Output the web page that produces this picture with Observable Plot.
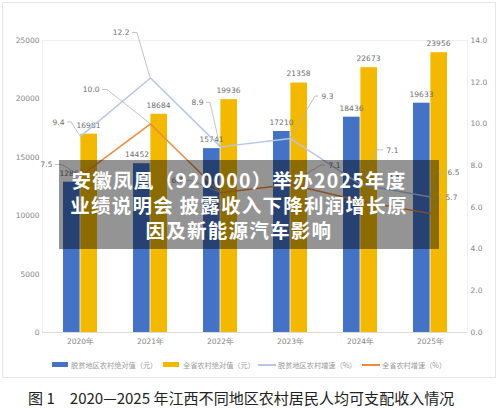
<!DOCTYPE html>
<html><head><meta charset="utf-8">
<script src="https://cdn.jsdelivr.net/npm/d3@7"></script>
<script src="https://cdn.jsdelivr.net/npm/@observablehq/plot@0.6"></script>
<style>
html,body{margin:0;padding:0;background:#fff;width:500px;height:409px;overflow:hidden}
#wrap{position:relative;width:500px;height:409px;font-family:"DejaVu Sans",sans-serif}
#wrap svg{position:absolute;left:0;top:0;background:transparent}
#frame{position:absolute;left:2px;top:2px;width:492px;height:374px;border:1.2px solid #e6e6e6}
#legend{position:absolute;left:52px;top:359px;height:12px;font:7.2px "Noto Sans CJK SC",sans-serif;color:#9a9a9a;white-space:nowrap}
#legend span{position:absolute;top:0;line-height:12px}
#legend i{position:absolute;display:block}
#banner{position:absolute;left:59px;top:160px;width:380px;height:89px;background:rgba(0,0,0,.42);color:#fff;font:bold 19.5px/25px "Noto Sans CJK SC",sans-serif;letter-spacing:1.25px;text-align:center;padding:7px 20px 0 0;box-sizing:border-box}
#caption{position:absolute;left:28px;top:388px;font:15.05px/20px "Noto Sans CJK SC",sans-serif;color:#222;white-space:nowrap}
</style></head><body>
<div id="wrap"><div id="frame"></div></div>
<script>
const years = ["2020年","2021年","2022年","2023年","2024年","2025年"];
const povertyIncome = [12868,14452,15741,17210,18436,19633];
const provinceIncome = [16981,18684,19936,21358,22673,23956];
const povertyGrowth = [9.4,12.2,8.9,9.3,7.1,6.5];
const provinceGrowth = [7.5,10.0,6.7,7.1,6.3,5.7];
const seriesNames = ["脱贫地区农村绝对值（元）","全省农村绝对值（元）","脱贫地区农村增速（%）","全省农村增速（%）"];
const colors = ["#4472c4","#f2b900","#b4c7e7","#ed8a3c"];
const leftTicks = [0,5000,10000,15000,20000,25000];
const rightTicks = [0,2,4,6,8,10,12,14];
const titleLines = ["安徽凤凰（920000）举办2025年度","业绩说明会 披露收入下降利润增长原","因及新能源汽车影响"];
const captionText = "图 1\u30002020—2025 年江西不同地区农村居民人均可支配收入情况";
// label leader offsets from each point, in px: elbow x, elbow y, leader end x
const povertyLeaders = [[-9,-14,-13],[-13,-45,-18],[-10,-44,-14],[25,-42,28],[17,-34,23],[10,-24,14]];
const provinceLeaders = [[-18,-11,-25],[-43,-34,-48],[-30,-12,-34],[31,-19,35],[20,-26,24],[8,-16,12]];
const blueLabelShift = [-9,-13.5,-9,-9,-9,-9];

const margins = {marginLeft:42,marginRight:33,marginTop:40,marginBottom:77,width:500,height:409};
const grey = "#858585", labelGrey = "#6e6e6e";
const style = {fontFamily:"DejaVu Sans, sans-serif",background:"transparent"};
const xScale = {type:"band",domain:years,padding:0,axis:null};

const barPlot = Plot.plot({...margins,style,x:xScale,y:{domain:[0,25000],axis:null},
  marks:[
    Plot.frame({stroke:"#efefef"}),
    Plot.ruleY([0],{stroke:"#dcdcdc",strokeWidth:1.2}),
    Plot.barY(povertyIncome,{x:(d,i)=>years[i],y1:0,y2:d=>d,fill:colors[0],insetLeft:18,insetRight:35.4}),
    Plot.barY(provinceIncome,{x:(d,i)=>years[i],y1:0,y2:d=>d,fill:colors[1],insetLeft:35.4,insetRight:18}),
    ...povertyIncome.map((v,i)=>Plot.text([v],{x:()=>years[i],y:d=>d,text:d=>String(d),dx:blueLabelShift[i],dy:-9,fontSize:7.5,fill:labelGrey})),
    Plot.text(provinceIncome,{x:(d,i)=>years[i],y:d=>d,text:d=>String(d),dx:8,dy:-9,fontSize:7.5,fill:labelGrey}),
    Plot.text(leftTicks,{x:()=>years[0],y:d=>d,text:d=>String(d),textAnchor:"end",dx:-41,fontSize:7.5,fill:grey}),
    Plot.text(years,{x:d=>d,y:()=>0,text:d=>d,dy:9,fontSize:7.5,fill:grey})
  ]});

function leaders(vals,offs){
  return Plot.line(vals,{x:(d,i)=>years[i],y:d=>d,stroke:"none",
    render(index,scales){
      const g=d3.create("svg:g").attr("fill","none").attr("stroke","#b5b5b5").attr("stroke-width",0.8);
      vals.forEach((v,i)=>{
        const x=scales.x(years[i])+scales.x.bandwidth()/2,y=scales.y(v),o=offs[i];
        g.append("path").attr("d",`M${x},${y}L${x+o[0]},${y+o[1]}L${x+o[2]},${y+o[1]}`);
      });
      return g.node();}});
}
function labels(vals,offs){
  return vals.map((v,i)=>{
    const o=offs[i],left=o[2]<0;
    return Plot.text([v],{x:()=>years[i],y:d=>d,text:d=>d.toFixed(1),dx:o[2]+(left?-3:3),dy:o[1],
      textAnchor:left?"end":"start",fontSize:7.5,fill:labelGrey});
  });
}
const linePlot = Plot.plot({...margins,style,x:xScale,y:{domain:[0,14],axis:null},
  marks:[
    Plot.line(povertyGrowth,{x:(d,i)=>years[i],y:d=>d,stroke:colors[2],strokeWidth:1.5}),
    Plot.line(provinceGrowth,{x:(d,i)=>years[i],y:d=>d,stroke:colors[3],strokeWidth:1.5}),
    leaders(povertyGrowth,povertyLeaders),
    leaders(provinceGrowth,provinceLeaders),
    ...labels(povertyGrowth,povertyLeaders),
    ...labels(provinceGrowth,provinceLeaders),
    Plot.text(rightTicks,{x:()=>years[5],y:d=>d,text:d=>d.toFixed(1),textAnchor:"start",dx:40,fontSize:7.5,fill:grey})
  ]});

const wrap=document.getElementById("wrap");
wrap.append(barPlot,linePlot);

const legend=document.createElement("div");legend.id="legend";
const swX=[0,111,206,310],txX=[19,131,226,330];
seriesNames.forEach((n,i)=>{
  const sw=document.createElement("i");
  sw.style.cssText=`left:${swX[i]}px;background:${colors[i]};width:${i<2?16:18}px;top:${i<2?3:5}px;height:${i<2?5:1.5}px`;
  const t=document.createElement("span");t.style.left=txX[i]+"px";t.textContent=n;
  legend.append(sw,t);
});
wrap.append(legend);

const banner=document.createElement("div");banner.id="banner";
banner.innerHTML=titleLines.map(l=>`<div>${l}</div>`).join("");
wrap.append(banner);
const cap=document.createElement("div");cap.id="caption";cap.textContent=captionText;
wrap.append(cap);
</script></body></html>
